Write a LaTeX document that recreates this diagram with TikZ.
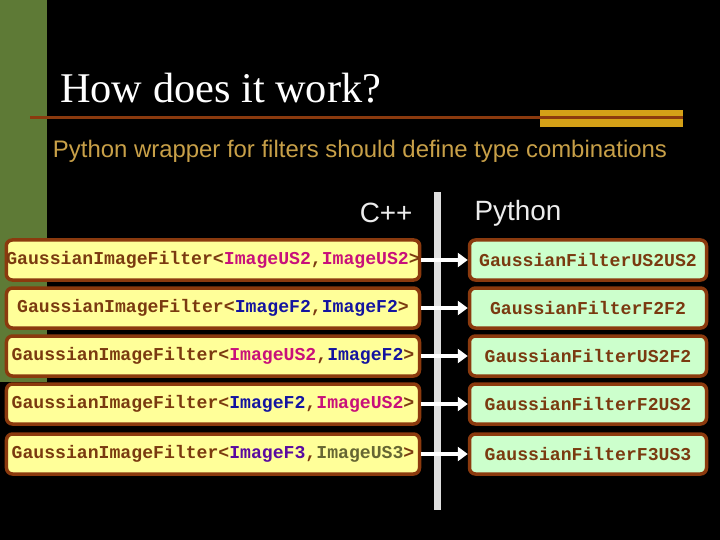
\documentclass[tikz,border=0pt]{standalone}
\usepackage{fontspec}
\setmainfont{Liberation Serif}
\setsansfont{Liberation Sans}
\setmonofont{Liberation Mono}
\usetikzlibrary{positioning,arrows.meta}
\definecolor{slidegreen}{HTML}{5E7A36}
\definecolor{rulebrown}{HTML}{8B3A0E}
\definecolor{rulegold}{HTML}{D4A017}
\definecolor{subtan}{HTML}{C8A048}
\definecolor{boxyellow}{HTML}{FFFF99}
\definecolor{boxmint}{HTML}{CCFFCC}
\definecolor{txtbrown}{HTML}{7A3A10}
\definecolor{tUS}{HTML}{C8107A}
\definecolor{tF}{HTML}{1414A0}
\definecolor{tFthree}{HTML}{5A0AA0}
\definecolor{tUSthree}{HTML}{666633}
\newcommand{\cls}[2]{GaussianImageFilter<#1,#2>}
\begin{document}
\begin{tikzpicture}[x=1bp,y=-1bp,
    cppbox/.style = {draw=rulebrown,line width=3.5bp,rounded corners=6bp,fill=boxyellow,
       text=txtbrown,font=\fontsize{18.2}{20}\ttfamily\bfseries,minimum width=413bp,
       minimum height=40bp,inner sep=0pt},
    pybox/.style = {cppbox,fill=boxmint,minimum width=237bp},
    maparrow/.style = {white,line width=4bp,-{Triangle[length=10bp,width=14bp]}}
]
   \fill[black] (0,0) rectangle (720,540);
   \fill[slidegreen] (0,0) rectangle (47,382);
   % title and rules
   \node[anchor=base west,white,font=\fontsize{42.5}{44}\selectfont,inner sep=0pt] (title) at (60,103) {How does it work?};
   \fill[rulegold] (540,110) rectangle (683,127);
   \draw[rulebrown,line width=3bp] (30,118) -- (683,118);
   \node[subtan,font=\sffamily\fontsize{24}{26}\selectfont] (sub) at (360,151)
      {Python wrapper for filters should define type combinations};
   % column heads
   \node[anchor=east,white!85!gray,font=\sffamily\fontsize{28}{30}\selectfont] (cpp) at (416,213) {C++};
   \node[anchor=west,white!85!gray,font=\sffamily\fontsize{28}{30}\selectfont] (py) at (471,213) {Python};
   \fill[white!75!gray] (434,192) rectangle (441,510);
   % type combinations
   \foreach \i/\y/\ta/\tb/\py in {%
      1/260/{\textcolor{tUS}{ImageUS2}}/{\textcolor{tUS}{ImageUS2}}/GaussianFilterUS2US2,
      2/308/{\textcolor{tF}{ImageF2}}/{\textcolor{tF}{ImageF2}}/GaussianFilterF2F2,
      3/356/{\textcolor{tUS}{ImageUS2}}/{\textcolor{tF}{ImageF2}}/GaussianFilterUS2F2,
      4/404/{\textcolor{tF}{ImageF2}}/{\textcolor{tUS}{ImageUS2}}/GaussianFilterF2US2,
      5/454/{\textcolor{tFthree}{ImageF3}}/{\textcolor{tUSthree}{ImageUS3}}/GaussianFilterF3US3}{
      \node[cppbox] (c\i) at (213,\y) {\cls{\ta}{\tb}};
      \node[pybox] (p\i) at (588,\y) {\py};
      \draw[maparrow] (c\i.east) -- (p\i.west);
   }
\end{tikzpicture}
\end{document}
